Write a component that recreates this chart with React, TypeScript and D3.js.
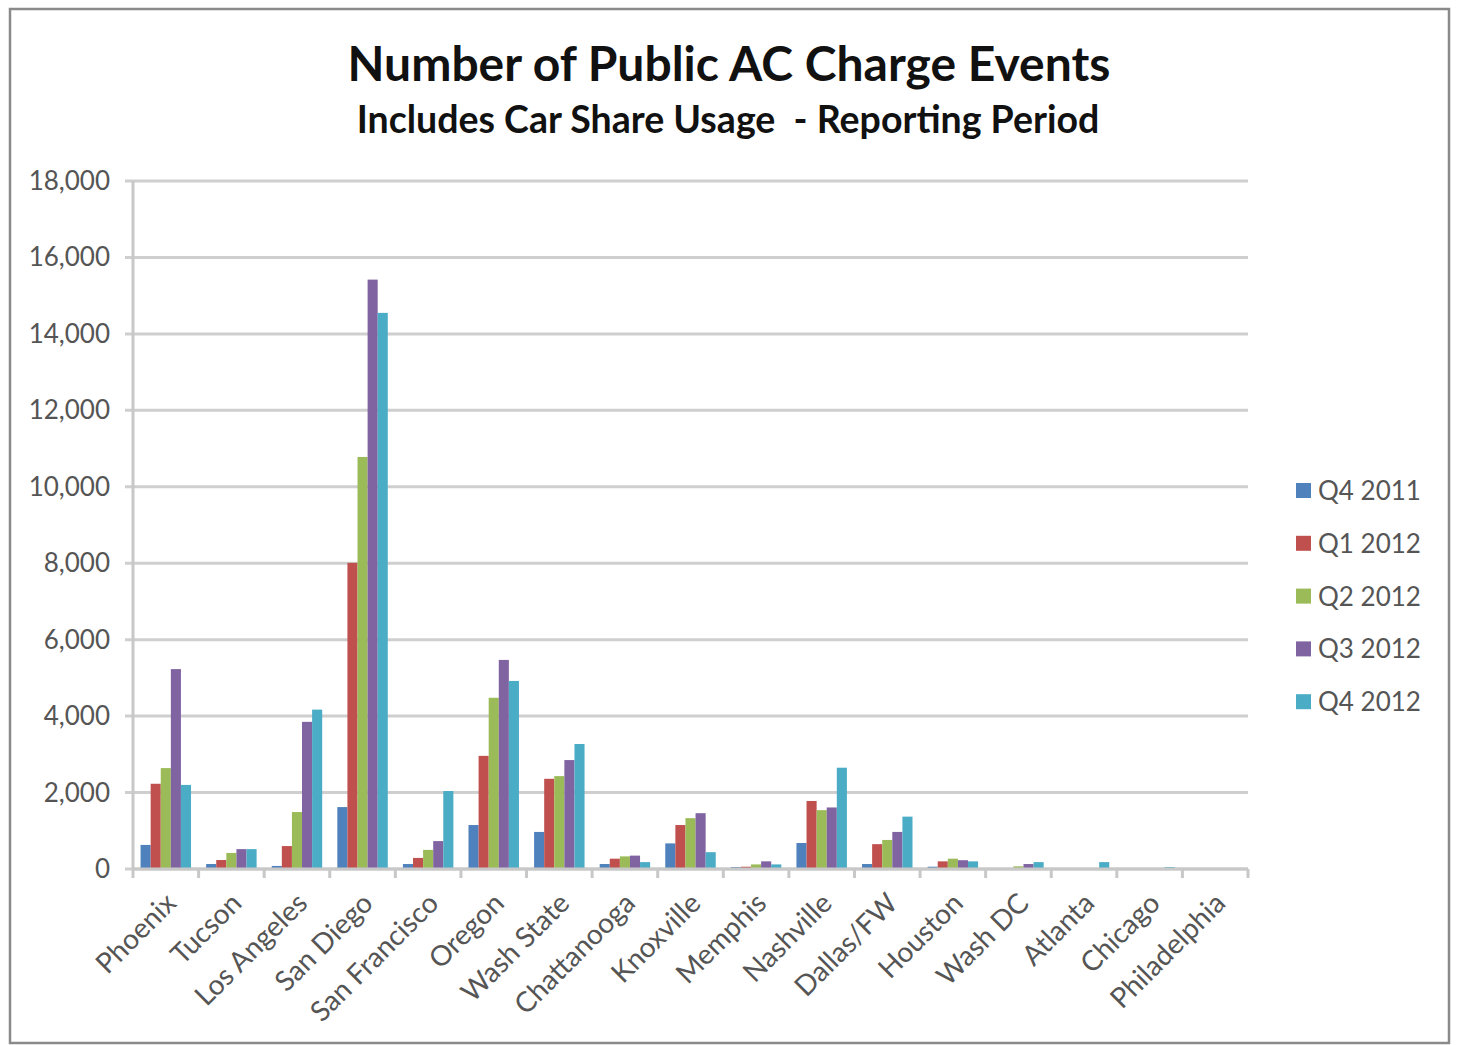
import React from "react";
import * as d3 from "d3";

const categories = ["Phoenix","Tucson","Los Angeles","San Diego","San Francisco","Oregon","Wash State","Chattanooga","Knoxville","Memphis","Nashville","Dallas/FW","Houston","Wash DC","Atlanta","Chicago","Philadelphia"];
const seriesNames = ["Q4 2011","Q1 2012","Q2 2012","Q3 2012","Q4 2012"];
const seriesColors = ["#4F81BD","#C0504D","#9BBB59","#8064A2","#4BACC6"];
const q4_2011 = [630,130,80,1620,130,1150,970,130,670,50,680,130,60,0,0,0,0];
const q1_2012 = [2230,235,600,8010,290,2960,2360,270,1150,60,1780,650,200,0,0,0,0];
const q2_2012 = [2640,420,1490,10780,500,4480,2430,330,1330,120,1540,760,270,70,0,0,0];
const q3_2012 = [5230,520,3850,15420,730,5470,2850,350,1460,200,1610,970,230,130,0,0,0];
const q4_2012 = [2200,520,4170,14550,2040,4920,3270,180,440,120,2650,1370,200,180,180,50,0];
const seriesValues = [q4_2011,q1_2012,q2_2012,q3_2012,q4_2012];
const yTicks = [0,2000,4000,6000,8000,10000,12000,14000,16000,18000];

export default function App() {
  const W = 1460, H = 1045;
  const left = 133, right = 1248, top = 181, bottom = 869;
  const x = d3.scaleBand<string>().domain(categories).range([left, right]).paddingInner(0).paddingOuter(0);
  const y = d3.scaleLinear().domain([0, 18000]).range([bottom, top]);
  const bw = x.bandwidth() / 6.5;
  const fmt = d3.format(",");
  const font = "Lato, 'Open Sans', sans-serif";
  return (
    <svg width={W} height={H} style={{ position: "absolute", left: 0, top: 0, background: "#fff" }}>
      <rect x={0} y={0} width={W} height={H} fill="#fff" />
      <rect x={10} y={9} width={1439} height={1034} fill="none" stroke="#8a8a8a" strokeWidth={2.5} />
      <text x={729} y={81} textAnchor="middle" fontFamily={font} fontWeight="bold" fontSize={48} fill="#111">Number of Public AC Charge Events</text>
      <text x={728} y={133} textAnchor="middle" fontFamily={font} fontWeight="bold" fontSize={37.5} fill="#111" style={{ whiteSpace: "pre" }}>{"Includes Car Share Usage  - Reporting Period"}</text>
      {yTicks.map(t => (
        <g key={t}>
          <line x1={left - 8} x2={right} y1={y(t)} y2={y(t)} stroke="#cfcfcf" strokeWidth={3} />
          <text x={110} y={y(t) + 9} textAnchor="end" fontFamily={font} fontSize={26} fill="#555">{fmt(t)}</text>
        </g>
      ))}
      <line x1={left} x2={left} y1={top} y2={bottom} stroke="#c8c8c8" strokeWidth={3} />
      {categories.map(c => (
        <line key={"t" + c} x1={x(c)!} x2={x(c)!} y1={bottom} y2={bottom + 9} stroke="#c8c8c8" strokeWidth={3} />
      ))}
      <line x1={right} x2={right} y1={bottom} y2={bottom + 9} stroke="#c8c8c8" strokeWidth={3} />
      {categories.map((c, i) => (
        <g key={c}>
          {seriesValues.map((vals, s) => {
            const v = vals[i];
            if (v <= 0) return null;
            const bx = x(c)! + bw * 0.75 + s * bw;
            return <rect key={s} x={bx} y={y(v)} width={bw} height={bottom - y(v)} fill={seriesColors[s]} />;
          })}
        </g>
      ))}
      <line x1={left} x2={right} y1={bottom} y2={bottom} stroke="#c8c8c8" strokeWidth={3} />
      {categories.map(c => {
        const cx = x(c)! + x.bandwidth() / 2 + 12;
        return (
          <text key={"l" + c} transform={`translate(${cx},${bottom + 36}) rotate(-45)`} textAnchor="end" fontFamily={font} fontSize={28} fill="#555">{c}</text>
        );
      })}
      {seriesNames.map((n, s) => (
        <g key={n} transform={`translate(1296,${491 + s * 52.8})`}>
          <rect x={0} y={-8} width={15} height={15} fill={seriesColors[s]} />
          <text x={22} y={9} fontFamily={font} fontSize={26} fill="#555">{n}</text>
        </g>
      ))}
    </svg>
  );
}
